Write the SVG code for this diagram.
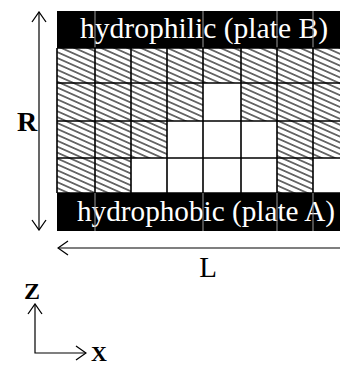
<svg xmlns="http://www.w3.org/2000/svg" width="340" height="365" viewBox="0 0 340 365">
  <defs>
    <pattern id="hatch" patternUnits="userSpaceOnUse" width="8" height="5.4" patternTransform="rotate(24)">
      <rect width="8" height="5.4" fill="#fff"/>
      <line x1="0" y1="2.7" x2="8" y2="2.7" stroke="#000" stroke-width="1.1"/>
    </pattern>
    <marker id="open" viewBox="0 0 12 16" refX="11" refY="8" markerWidth="12" markerHeight="16" markerUnits="userSpaceOnUse" orient="auto-start-reverse">
      <path d="M1,1 L11,8 L1,15" fill="none" stroke="#000" stroke-width="1.3"/>
    </marker>
    <style>
      .plate { fill: #000; }
      .plateText { font-family: "Liberation Serif", "Times New Roman", serif; font-size: 29px; fill: #fff; }
      .hat { fill: url(#hatch); }
      .grid { stroke: #000; stroke-width: 1.6; fill: none; }
      .sep { stroke: #9a9a9a; stroke-width: 1; }
      .dim { stroke: #000; stroke-width: 1.2; fill: none; }
      .lbl { font-family: "Liberation Serif", "Times New Roman", serif; fill: #000; }
    </style>
  </defs>

  <g id="plateB">
    <rect class="plate" x="57" y="11" width="290" height="37"/>
    <text class="plateText" x="80" y="38" textLength="248" lengthAdjust="spacingAndGlyphs">hydrophilic (plate B)</text>
    <line class="sep" x1="95" y1="11" x2="95" y2="48"/>
    <line class="sep" x1="203" y1="11" x2="203" y2="48"/>
    <line class="sep" x1="277" y1="11" x2="277" y2="48"/>
    <line class="sep" x1="313" y1="11" x2="313" y2="48"/>
  </g>

  <g id="lattice">
    <rect class="hat" x="57" y="48" width="290" height="35"/>
    <rect class="hat" x="57" y="83" width="146" height="38"/>
    <rect class="hat" x="241" y="83" width="106" height="38"/>
    <rect class="hat" x="57" y="121" width="110" height="37"/>
    <rect class="hat" x="277" y="121" width="70" height="37"/>
    <rect class="hat" x="57" y="158" width="74" height="35"/>
    <rect class="hat" x="277" y="158" width="36" height="35"/>
    <path class="grid" d="M57,48 H347 M57,83 H347 M57,121 H347 M57,158 H347 M57,193 H347 M57,48 V193 M95,48 V193 M131,48 V193 M167,48 V193 M203,48 V193 M241,48 V193 M277,48 V193 M313,48 V193"/>
  </g>

  <g id="plateA">
    <rect class="plate" x="57" y="193" width="290" height="38"/>
    <text class="plateText" x="77" y="221" textLength="258" lengthAdjust="spacingAndGlyphs">hydrophobic (plate A)</text>
    <line class="sep" x1="95" y1="193" x2="95" y2="231"/>
    <line class="sep" x1="203" y1="193" x2="203" y2="231"/>
    <line class="sep" x1="277" y1="193" x2="277" y2="231"/>
    <line class="sep" x1="313" y1="193" x2="313" y2="231"/>
  </g>

  <g id="connectors">
    <line class="dim" x1="39" y1="12" x2="39" y2="230" marker-start="url(#open)" marker-end="url(#open)"/>
    <line class="dim" x1="342" y1="248" x2="58" y2="248" marker-end="url(#open)"/>
    <path class="dim" d="M35,304 V353 H86" marker-start="url(#open)" marker-end="url(#open)"/>
  </g>

  <g id="labels">
    <text class="lbl" x="27" y="131" font-size="28" font-weight="bold" text-anchor="middle">R</text>
    <text class="lbl" x="208" y="277" font-size="29" text-anchor="middle">L</text>
    <text class="lbl" x="32" y="299" font-size="24" font-weight="bold" text-anchor="middle">Z</text>
    <text class="lbl" x="99" y="361" font-size="22" font-weight="bold" text-anchor="middle">X</text>
  </g>
</svg>
